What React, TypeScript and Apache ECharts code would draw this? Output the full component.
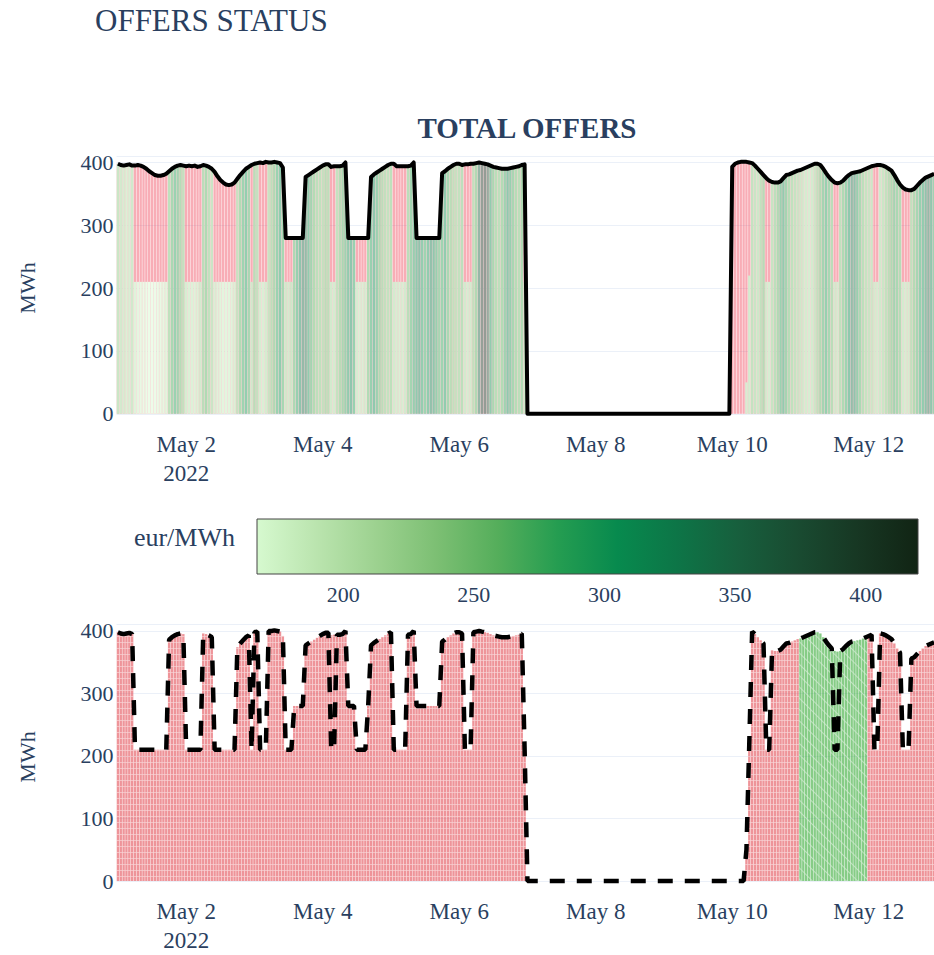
import React, { useEffect, useRef } from 'react';
import * as echarts from 'echarts';

// ---------- DATA (hourly, starting 2022-05-01 00:00 UTC) ----------
const START_UTC = Date.UTC(2022, 4, 1, 0, 0, 0);
const HOUR = 3600 * 1000;

// Total offered volume (MWh) — black line, top chart
const totalOffered: number[] = [
  398, 396, 395, 396, 397, 395, 395, 396, 395, 393, 390, 386, 383, 380, 379, 379, 380, 382, 386, 390, 393, 395, 396, 395,
  394, 395, 394, 395, 393, 394, 396, 395, 393, 390, 385, 378, 372, 368, 365, 364, 365, 368, 374, 380, 385, 390, 393, 396,
  398, 399, 400, 399, 401, 400, 400, 401, 400, 399, 392, 280, 280, 280, 280, 280, 280, 280, 377, 380, 383, 386, 389, 392,
  395, 397, 397, 393, 394, 394, 394, 395, 400, 280, 280, 280, 280, 280, 280, 280, 280, 377, 381, 384, 387, 390, 393, 396,
  398, 398, 394, 394, 394, 394, 394, 395, 400, 280, 280, 280, 280, 280, 280, 280, 280, 280, 383, 386, 390, 393, 396, 398,
  398, 396, 397, 397, 398, 398, 399, 400, 399, 398, 397, 395, 393, 392, 391, 390, 390, 390, 391, 392, 393, 394, 396, 397,
  0, 0, 0, 0, 0, 0, 0, 0, 0, 0, 0, 0, 0, 0, 0, 0, 0, 0, 0, 0, 0, 0, 0, 0,
  0, 0, 0, 0, 0, 0, 0, 0, 0, 0, 0, 0, 0, 0, 0, 0, 0, 0, 0, 0, 0, 0, 0, 0,
  0, 0, 0, 0, 0, 0, 0, 0, 0, 0, 0, 0, 0, 0, 0, 0, 0, 0, 0, 0, 0, 0, 0, 0,
  393, 398, 400, 401, 401, 401, 400, 399, 395, 390, 385, 380, 375, 371, 369, 368, 368, 370, 375, 380, 381, 383, 385, 387,
  388, 390, 392, 394, 396, 398, 398, 396, 390, 383, 377, 372, 368, 367, 368, 371, 376, 380, 383, 384, 385, 386, 388, 390,
  392, 394, 395, 396, 396, 395, 393, 390, 387, 380, 372, 365, 360, 357, 356, 356, 358, 363, 368, 372, 376, 378, 380, 382,
];

// Accepted volume (MWh) — green bars top chart, dashed line bottom chart
const acceptedVolume: number[] = [
  398, 396, 395, 396, 397, 395, 210, 210, 210, 210, 210, 210, 210, 210, 210, 210, 210, 210, 386, 390, 393, 395, 396, 395,
  210, 210, 210, 210, 210, 210, 396, 395, 393, 390, 210, 210, 210, 210, 210, 210, 210, 210, 374, 380, 385, 390, 393, 210,
  398, 399, 210, 210, 210, 400, 400, 401, 400, 399, 392, 210, 210, 210, 280, 280, 280, 280, 377, 380, 383, 386, 389, 392,
  395, 397, 397, 210, 210, 394, 394, 395, 400, 280, 280, 280, 210, 210, 210, 210, 280, 377, 381, 384, 387, 390, 393, 396,
  398, 210, 210, 210, 210, 210, 394, 395, 400, 280, 280, 280, 280, 280, 280, 280, 280, 280, 383, 386, 390, 393, 396, 398,
  398, 396, 210, 210, 210, 398, 399, 400, 399, 398, 397, 395, 393, 392, 391, 390, 390, 390, 391, 392, 393, 394, 396, 210,
  0, 0, 0, 0, 0, 0, 0, 0, 0, 0, 0, 0, 0, 0, 0, 0, 0, 0, 0, 0, 0, 0, 0, 0,
  0, 0, 0, 0, 0, 0, 0, 0, 0, 0, 0, 0, 0, 0, 0, 0, 0, 0, 0, 0, 0, 0, 0, 0,
  0, 0, 0, 0, 0, 0, 0, 0, 0, 0, 0, 0, 0, 0, 0, 0, 0, 0, 0, 0, 0, 0, 0, 0,
  0, 0, 0, 0, 0, 50, 220, 399, 395, 390, 385, 380, 210, 210, 369, 368, 368, 370, 375, 380, 381, 383, 385, 387,
  388, 390, 392, 394, 396, 398, 398, 396, 390, 383, 377, 372, 210, 210, 368, 371, 376, 380, 383, 384, 385, 386, 388, 390,
  392, 394, 210, 210, 396, 395, 393, 390, 387, 380, 372, 365, 210, 210, 210, 356, 358, 363, 368, 372, 376, 378, 380, 382,
];

// Volume by offer status (MWh) — bars, bottom chart
const statusVolume: number[] = [
  398, 396, 395, 396, 397, 395, 210, 210, 210, 210, 210, 210, 210, 210, 210, 210, 210, 210, 386, 390, 393, 395, 396, 395,
  210, 210, 210, 210, 210, 210, 396, 395, 393, 390, 210, 210, 210, 210, 210, 210, 210, 210, 374, 380, 385, 390, 393, 210,
  398, 399, 210, 210, 210, 400, 400, 401, 400, 399, 392, 210, 210, 210, 280, 280, 280, 280, 377, 380, 383, 386, 389, 392,
  395, 397, 397, 393, 394, 394, 394, 395, 400, 280, 280, 280, 210, 210, 210, 210, 280, 377, 381, 384, 387, 390, 393, 396,
  398, 210, 210, 210, 210, 210, 394, 395, 400, 280, 280, 280, 280, 280, 280, 280, 280, 280, 383, 386, 390, 393, 396, 398,
  398, 396, 210, 210, 210, 398, 399, 400, 399, 398, 397, 395, 393, 392, 391, 390, 390, 390, 391, 392, 393, 394, 396, 210,
  0, 0, 0, 0, 0, 0, 0, 0, 0, 0, 0, 0, 0, 0, 0, 0, 0, 0, 0, 0, 0, 0, 0, 0,
  0, 0, 0, 0, 0, 0, 0, 0, 0, 0, 0, 0, 0, 0, 0, 0, 0, 0, 0, 0, 0, 0, 0, 0,
  0, 0, 0, 0, 0, 0, 0, 0, 0, 0, 0, 0, 0, 0, 0, 0, 0, 0, 0, 0, 0, 0, 0, 0,
  0, 0, 0, 0, 0, 50, 220, 399, 395, 390, 385, 380, 210, 210, 369, 368, 368, 370, 375, 380, 381, 383, 385, 387,
  388, 390, 392, 394, 396, 398, 398, 396, 390, 383, 377, 372, 368, 367, 368, 371, 376, 380, 383, 384, 385, 386, 388, 390,
  392, 394, 210, 210, 396, 395, 393, 390, 387, 380, 372, 365, 210, 210, 210, 356, 358, 363, 368, 372, 376, 378, 380, 382,
];

// Offer price (eur/MWh) — colour of the accepted bars
const offerPrice: (number | null)[] = [
  225, 212, 205, 198, 202, 215, 190, 182, 176, 172, 170, 168, 167, 169, 172, 175, 180, 186, 242, 268, 285, 276, 255, 238,
  205, 198, 195, 192, 196, 210, 248, 262, 240, 225, 200, 192, 188, 185, 184, 186, 190, 198, 232, 258, 280, 296, 270, 215,
  250, 236, 205, 200, 208, 230, 246, 262, 285, 300, 270, 215, 210, 220, 265, 290, 320, 345, 338, 300, 276, 258, 245, 240,
  238, 250, 246, 212, 208, 236, 252, 268, 280, 300, 315, 288, 205, 198, 200, 206, 260, 290, 310, 285, 262, 248, 240, 236,
  244, 210, 204, 200, 203, 212, 248, 275, 292, 305, 320, 296, 280, 300, 326, 310, 290, 272, 280, 300, 268, 250, 240, 235,
  238, 245, 212, 205, 210, 240, 262, 350, 410, 420, 380, 300, 268, 250, 245, 258, 280, 305, 290, 270, 255, 248, 262, 220,
  null, null, null, null, null, null, null, null, null, null, null, null, null, null, null, null, null, null, null, null, null, null, null, null,
  null, null, null, null, null, null, null, null, null, null, null, null, null, null, null, null, null, null, null, null, null, null, null, null,
  null, null, null, null, null, null, null, null, null, null, null, null, null, null, null, null, null, null, null, null, null, null, null, null,
  230, 225, 220, 215, 212, 205, 208, 235, 228, 220, 240, 255, 210, 205, 230, 245, 262, 285, 300, 275, 255, 240, 232, 225,
  218, 212, 208, 205, 210, 222, 240, 258, 275, 290, 270, 250, 212, 208, 240, 262, 280, 310, 335, 320, 290, 265, 245, 232,
  228, 222, 210, 206, 215, 225, 238, 250, 262, 275, 268, 255, 210, 205, 208, 240, 258, 272, 290, 300, 320, 345, 310, 280,
];

// Offer status per day (May 1 ... May 12) — bottom chart bar colour
const dayStatus: string[] = [
  'rejected', 'rejected', 'rejected', 'rejected', 'rejected', 'rejected',
  'rejected', 'rejected', 'rejected', 'rejected', 'accepted', 'rejected',
];

const xTickDays: number[] = [2, 4, 6, 8, 10, 12]; // May, 2022
const colorbarTicks: number[] = [200, 250, 300, 350, 400];
const priceRange: number[] = [167, 420];

const algaeScale: string[] = [
  'rgb(214, 249, 207)', 'rgb(186, 228, 174)', 'rgb(156, 209, 143)', 'rgb(124, 191, 115)',
  'rgb(85, 174, 91)', 'rgb(37, 157, 81)', 'rgb(7, 138, 78)', 'rgb(13, 117, 71)',
  'rgb(23, 95, 61)', 'rgb(25, 75, 49)', 'rgb(23, 55, 35)', 'rgb(17, 36, 20)',
];

// ---------- STYLE ----------
const FONT = '"Liberation Serif", "Times New Roman", serif';
const TEXT = '#2a3f5f';
const GRIDLINE = '#ebf0f8';
const BAR_OPACITY = 0.45;

// blend an rgb() colour with white, as a translucent bar on a white page
function onWhite(c: string, a: number): string {
  const m = c.match(/\d+/g) || ['0', '0', '0'];
  const ch = m.slice(0, 3).map((v) => Math.round(255 - a * (255 - Number(v))));
  return `rgb(${ch[0]}, ${ch[1]}, ${ch[2]})`;
}

export default function App() {
  const ref = useRef<HTMLDivElement>(null);

  useEffect(() => {
    const el = ref.current;
    if (!el) return;
    const chart = echarts.init(el, null, { renderer: 'svg' });

    const t = (i: number) => START_UTC + i * HOUR;
    const xMin = START_UTC - 0.5 * HOUR;
    const xMax = START_UTC + 286.95 * HOUR;
    const tickValues = xTickDays.map((d) => Date.UTC(2022, 4, d));

    const greenData = acceptedVolume.map((v, i) => [t(i), v, offerPrice[i] == null ? priceRange[0] : offerPrice[i]]);
    const redData = totalOffered.map((v, i) => [t(i), v]);
    const totalLine = totalOffered.map((v, i) => [t(i), v]);
    const acceptedLine = acceptedVolume.map((v, i) => [t(i), v]);

    const redDecal = {
      symbol: 'rect', symbolSize: 1, dashArrayX: [1, 0], dashArrayY: [1, 5],
      color: 'rgba(255, 255, 255, 0.4)',
    };
    const greenDecal = {
      symbol: 'rect', symbolSize: 1, dashArrayX: [1, 0], dashArrayY: [1, 7],
      rotation: Math.PI / 4, color: 'rgba(255, 255, 255, 0.45)',
    };

    const statusData = statusVolume.map((v, i) => {
      const st = dayStatus[Math.floor(i / 24)];
      const ok = st === 'accepted';
      return {
        value: [t(i), v],
        itemStyle: {
          color: ok ? 'rgba(60, 172, 60, 0.62)' : 'rgba(226, 70, 80, 0.58)',
          decal: ok ? greenDecal : redDecal,
        },
      };
    });

    const xLabel = {
      customValues: tickValues,
      fontFamily: FONT,
      fontSize: 23,
      color: TEXT,
      lineHeight: 29,
      margin: 16,
      formatter: (val: number) => {
        const d = new Date(val);
        const s = 'May ' + d.getUTCDate();
        return d.getUTCDate() === 2 ? s + '\n2022' : s;
      },
    };
    const yAxisCommon = {
      type: 'value',
      min: 0,
      max: 410,
      interval: 100,
      axisLine: { show: false },
      axisTick: { show: false },
      splitLine: { show: true, lineStyle: { color: GRIDLINE, width: 1 } },
      axisLabel: { fontFamily: FONT, fontSize: 22, color: TEXT, margin: 3 },
    };
    const xAxisCommon = {
      type: 'value',
      min: xMin,
      max: xMax,
      axisLine: { show: false },
      axisTick: { show: false },
      splitLine: { show: false },
      axisLabel: xLabel,
    };

    const gradient = new echarts.graphic.LinearGradient(
      0, 0, 1, 0,
      algaeScale.map((c, i) => ({ offset: i / (algaeScale.length - 1), color: c })),
    );

    const option: any = {
      animation: false,
      backgroundColor: '#ffffff',
      grid: [
        { left: 116.5, top: 156.2, width: 817.5, height: 257.6 },
        { left: 116.5, top: 624.7, width: 817.5, height: 258.9 },
        { left: 257, top: 519, width: 661, height: 55 },
      ],
      xAxis: [
        { ...xAxisCommon, gridIndex: 0 },
        { ...xAxisCommon, gridIndex: 1 },
        {
          type: 'value', gridIndex: 2, min: priceRange[0], max: priceRange[1],
          axisLine: { show: false }, axisTick: { show: false }, splitLine: { show: false },
          axisLabel: {
            customValues: colorbarTicks, fontFamily: FONT, fontSize: 22, color: TEXT,
            margin: 9, lineHeight: 22,
          },
        },
      ],
      yAxis: [
        { ...yAxisCommon, gridIndex: 0 },
        { ...yAxisCommon, gridIndex: 1 },
        { type: 'value', gridIndex: 2, show: false, min: 0, max: 1 },
      ],
      visualMap: [
        {
          type: 'continuous',
          show: false,
          seriesIndex: 1,
          dimension: 2,
          min: priceRange[0],
          max: priceRange[1],
          inRange: { color: algaeScale.map((c) => onWhite(c, BAR_OPACITY)) },
        },
      ],
      series: [
        {
          name: 'offered (not accepted part)',
          type: 'bar',
          xAxisIndex: 0, yAxisIndex: 0,
          barWidth: '84%',
          barGap: '-100%',
          itemStyle: { color: 'rgba(239, 68, 88, 0.44)' },
          data: redData,
        },
        {
          name: 'accepted',
          type: 'bar',
          xAxisIndex: 0, yAxisIndex: 0,
          barWidth: '84%',
          barGap: '-100%',
          data: greenData,
        },
        {
          name: 'total',
          type: 'line',
          xAxisIndex: 0, yAxisIndex: 0,
          showSymbol: false,
          clip: false,
          lineStyle: { color: '#000000', width: 4, join: 'round' },
          z: 5,
          data: totalLine,
        },
        {
          name: 'status',
          type: 'bar',
          xAxisIndex: 1, yAxisIndex: 1,
          barWidth: '84%',
          data: statusData,
        },
        {
          name: 'accepted line',
          type: 'line',
          xAxisIndex: 1, yAxisIndex: 1,
          showSymbol: false,
          clip: false,
          lineStyle: { color: '#000000', width: 4.5, type: [15, 12] },
          z: 5,
          data: acceptedLine,
        },
      ],
      graphic: [
        {
          type: 'text', left: 95, top: 5,
          style: { text: 'OFFERS STATUS', fontFamily: FONT, fontSize: 31, fill: TEXT },
        },
        {
          type: 'text', x: 527, y: 128,
          style: {
            text: 'TOTAL OFFERS', fontFamily: FONT, fontSize: 29, fontWeight: 'bold', fill: TEXT,
            align: 'center', verticalAlign: 'middle',
          },
        },
        {
          type: 'text', x: 27, y: 288, rotation: Math.PI / 2,
          style: { text: 'MWh', fontFamily: FONT, fontSize: 22, fill: TEXT, align: 'center', verticalAlign: 'middle' },
        },
        {
          type: 'text', x: 27, y: 757, rotation: Math.PI / 2,
          style: { text: 'MWh', fontFamily: FONT, fontSize: 22, fill: TEXT, align: 'center', verticalAlign: 'middle' },
        },
        {
          type: 'text', x: 235, y: 537,
          style: { text: 'eur/MWh', fontFamily: FONT, fontSize: 26, fill: TEXT, align: 'right', verticalAlign: 'middle' },
        },
        {
          type: 'rect',
          shape: { x: 257, y: 519, width: 661, height: 55 },
          style: { fill: gradient, stroke: '#444444', lineWidth: 1 },
        },
      ],
    };

    chart.setOption(option);
    return () => chart.dispose();
  }, []);

  return (
    <div
      ref={ref}
      style={{ position: 'fixed', left: 0, top: 0, width: 934, height: 955, background: '#ffffff' }}
    />
  );
}
